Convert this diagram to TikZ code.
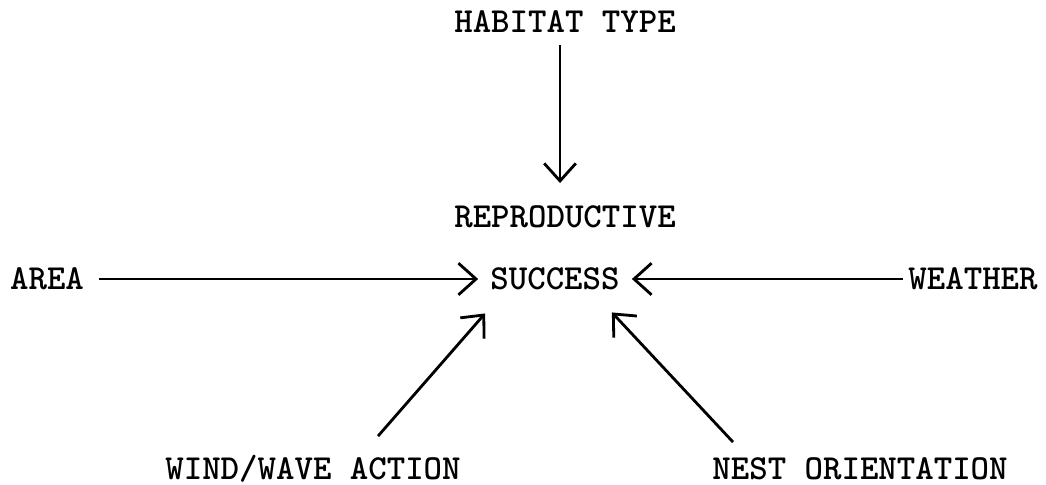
\documentclass[tikz,border=0pt]{standalone}
\usetikzlibrary{arrows.meta}

\begin{document}
\begin{tikzpicture}[>={Straight Barb[length=5pt,width=9pt]},
    factor/.style={font=\ttfamily\bfseries\fontsize{10}{12}\selectfont, inner sep=3.3pt},
    link/.style={->, line width=0.8pt}]
    \useasboundingbox (0,0) rectangle (10.46,4.84);

    % 1. factors
    \node[factor] (habitat) at (5.65,4.62) {HABITAT TYPE};
    \node[factor] (repro)   at (5.65,2.67) {REPRODUCTIVE};
    \node[factor] (success) at (5.55,2.05) {SUCCESS};
    \node[factor] (area)    at (0.47,2.05) {AREA};
    \node[factor] (weather) at (9.73,2.05) {WEATHER};
    \node[factor] (wind)    at (3.13,0.15) {WIND/WAVE ACTION};
    \node[factor] (nest)    at (8.60,0.15) {NEST ORIENTATION};

    % 2. arrows into reproductive success
    \draw[link, shorten >=3pt] ([xshift=-0.05cm]habitat.south) -- ([xshift=-0.05cm]repro.north);
    \draw[link] ([xshift=0.03cm]area.east) -- (success);
    \draw[link] ([xshift=0.07cm]weather.west) -- (success);
    \draw[link] ([xshift=0.65cm,yshift=2pt]wind.north) -- ([shift={(0.07,-0.11)}]success.south west);
    \draw[link] ([xshift=-1.27cm,yshift=1pt]nest.north) -- ([shift={(-0.20,-0.10)}]success.south east);
\end{tikzpicture}
\end{document}
